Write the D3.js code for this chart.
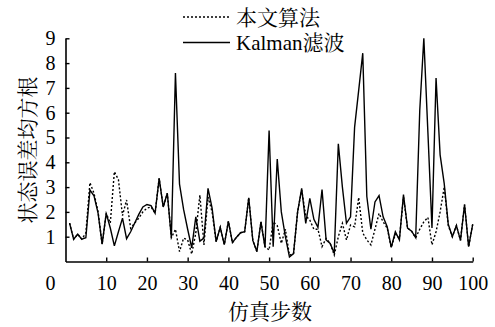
<!DOCTYPE html>
<html>
<head>
<meta charset="utf-8">
<script src="https://cdn.jsdelivr.net/npm/d3@7"></script>
<style>
  body { margin: 0; background: #fff; }
  text { font-family: "Liberation Serif", "Noto Serif CJK SC", serif; fill: #000; }
</style>
</head>
<body>
<svg class="main"></svg>
<script>
// simulation steps 1..100
let steps = d3.range(1, 101);

let kalman = [
  1.55, 0.9, 1.1, 0.9, 0.96, 2.88, 2.65, 1.95, 0.7, 1.94,
  1.35, 0.63, 1.2, 1.75, 0.92, 1.2, 1.55, 1.9, 2.2, 2.3,
  2.25, 1.95, 3.35, 2.2, 2.75, 0.96, 7.6, 3.12, 2.1, 1.3,
  0.55, 1.8, 0.82, 0.94, 2.95, 2.15, 0.8, 1.38, 0.68, 1.62,
  0.76, 0.98, 1.16, 1.2, 2.57, 0.85, 0.4, 1.6, 0.57, 5.28,
  0.6, 4.13, 2.0, 1.0, 0.18, 0.32, 2.0, 2.95, 1.54, 2.55,
  1.7, 1.38, 2.9, 0.87, 0.73, 0.33, 4.75, 3.0, 1.54, 1.8,
  5.42, 6.9, 8.4, 2.62, 1.3, 2.4, 2.66, 1.8, 1.4, 0.57,
  1.2, 0.87, 2.7, 1.35, 1.22, 0.96, 6.1, 9.0, 5.2, 1.35,
  7.4, 4.3, 3.15, 1.5, 1.0, 1.45, 0.85, 2.3, 0.6, 1.5
];

let ours = [
  1.55, 0.9, 1.1, 0.9, 1.15, 3.18, 2.75, 2.0, 0.7, 1.94,
  1.55, 3.62, 3.3, 1.85, 2.48, 1.34, 1.55, 1.75, 2.0, 2.15,
  2.2, 1.95, 3.35, 2.2, 2.75, 0.96, 1.3, 0.4, 0.94, 0.87,
  0.3, 1.15, 2.68, 0.67, 2.6, 2.0, 0.8, 1.38, 0.68, 1.62,
  0.76, 0.98, 1.16, 1.2, 2.57, 0.85, 0.4, 1.6, 0.6, 0.46,
  1.6, 1.45, 0.73, 1.3, 0.25, 0.32, 2.0, 2.88, 1.85, 1.67,
  1.3, 1.3, 0.6, 0.93, 0.73, 0.26, 1.0, 1.54, 0.87, 1.47,
  1.4, 2.58, 1.15, 0.87, 0.67, 1.3, 1.94, 1.6, 1.35, 0.57,
  1.1, 0.93, 2.6, 1.35, 1.22, 0.96, 1.3, 1.6, 1.78, 0.67,
  1.2, 2.0, 3.0, 1.45, 1.0, 1.45, 0.85, 2.3, 0.6, 1.5
];

let xTicks = [10, 20, 30, 40, 50, 60, 70, 80, 90, 100];
let yTicks = [1, 2, 3, 4, 5, 6, 7, 8, 9];
let seriesNames = ['本文算法', 'Kalman滤波'];

let w = 495, h = 327;
let plotLeft = 65.5, plotRight = 472.7, plotTop = 38.3, plotBottom = 261.5;
let serif = '"Liberation Serif", "Noto Serif CJK SC", serif';

let svg = d3.select('.main')
  .attr('width', w)
  .attr('height', h);

let x = d3.scaleLinear().domain([0, 100]).range([plotLeft, plotRight]);
let y = d3.scaleLinear().domain([0, 9]).range([plotBottom, plotTop]);

let xAxis = svg.append('g')
  .attr('transform', `translate(0,${plotBottom})`)
  .call(d3.axisBottom(x).tickValues(xTicks).tickSize(-4).tickSizeOuter(0).tickPadding(14));

let yAxis = svg.append('g')
  .attr('transform', `translate(${plotLeft},0)`)
  .call(d3.axisLeft(y).tickValues(yTicks).tickSize(-4).tickSizeOuter(0).tickPadding(10));

[xAxis, yAxis].forEach(g => {
  g.attr('font-family', serif);
  g.select('.domain').attr('stroke', '#000').attr('stroke-width', 1.6);
  g.selectAll('.tick line').attr('stroke', '#000').attr('stroke-width', 1.4);
  g.selectAll('.tick text').attr('font-size', 20);
});

// origin label sits under the y labels
svg.append('text')
  .attr('x', plotLeft - 10)
  .attr('y', plotBottom + 28)
  .attr('text-anchor', 'end')
  .attr('font-size', 20)
  .text('0');

let line = d3.line()
  .x((d, i) => x(steps[i]))
  .y(d => y(d));

svg.append('path')
  .datum(kalman)
  .attr('d', line)
  .attr('fill', 'none')
  .attr('stroke', '#000')
  .attr('stroke-width', 1.4);

svg.append('path')
  .datum(ours)
  .attr('d', line)
  .attr('fill', 'none')
  .attr('stroke', '#000')
  .attr('stroke-width', 1.4)
  .attr('stroke-dasharray', '2,2');

// legend
let legend = svg.append('g');
let legendRows = [17, 42.5];
seriesNames.forEach((name, i) => {
  legend.append('line')
    .attr('x1', 183).attr('x2', 230)
    .attr('y1', legendRows[i]).attr('y2', legendRows[i])
    .attr('stroke', '#000')
    .attr('stroke-width', 1.3)
    .attr('stroke-dasharray', i === 0 ? '2,2' : null);
  legend.append('text')
    .attr('x', 236)
    .attr('y', legendRows[i] + 7.5)
    .attr('font-size', 21)
    .text(name);
});

// axis titles
svg.append('text')
  .attr('transform', 'translate(35,150) rotate(-90)')
  .attr('text-anchor', 'middle')
  .attr('font-size', 21)
  .text('状态误差均方根');

svg.append('text')
  .attr('x', 270)
  .attr('y', 319)
  .attr('text-anchor', 'middle')
  .attr('font-size', 21)
  .text('仿真步数');
</script>
</body>
</html>
